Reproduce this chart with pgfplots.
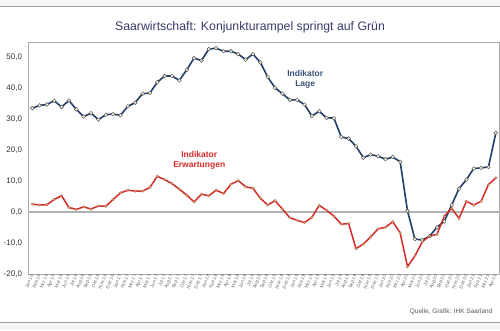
\documentclass[border=0pt]{standalone}
\usepackage{fontspec}
\setmainfont{Liberation Sans}
\usepackage{pgfplots}
\pgfplotsset{compat=1.18}
\usepackage{pgfplotstable}
\definecolor{lage}{HTML}{233E6B}
\definecolor{erw}{HTML}{D42A2A}
\definecolor{lagemark}{HTML}{EFEBD2}
\definecolor{erwmark}{HTML}{EDA070}
\definecolor{titlec}{HTML}{3B3B6E}
\pgfplotstableread{
i lage erw
0 33.6 2.6
1 34.5 2.3
2 34.8 2.4
3 36.0 4.1
4 34.0 5.3
5 36.1 1.5
6 33.2 0.9
7 30.9 1.7
8 32.0 1.0
9 29.9 2.0
10 31.5 1.9
11 31.7 4.1
12 31.3 6.2
13 34.2 7.1
14 35.4 6.8
15 38.3 6.8
16 38.5 8.0
17 42.0 11.6
18 44.0 10.5
19 44.0 9.2
20 42.6 7.4
21 46.0 5.5
22 49.8 3.3
23 49.0 5.8
24 52.7 5.3
25 53.0 7.1
26 52.0 6.0
27 52.0 9.0
28 51.1 10.2
29 49.3 8.2
30 51.1 7.7
31 48.4 4.5
32 43.7 2.3
33 40.2 3.7
34 38.3 1.0
35 36.3 -1.8
36 36.3 -2.6
37 34.8 -3.4
38 31.1 -1.7
39 32.6 2.2
40 30.5 0.6
41 30.4 -1.3
42 24.3 -3.9
43 23.8 -3.7
44 21.3 -11.8
45 17.6 -10.3
46 18.6 -8.0
47 18.1 -5.4
48 17.1 -4.9
49 17.8 -3.1
50 16.3 -6.7
51 0.4 -17.6
52 -8.7 -14.2
53 -9.0 -9.6
54 -7.8 -7.7
55 -4.9 -7.2
56 -3.0 -1.3
57 2.3 1.2
58 7.6 -2.0
59 10.5 3.5
60 14.1 2.3
61 14.3 3.5
62 14.6 8.9
63 25.6 11.1
}\data
\begin{document}
\begin{tikzpicture}
\path[use as bounding box] (0pt,0pt) rectangle (500pt,330pt);
\fill[gray!7] (0pt,0pt) rectangle (500pt,330pt);
\fill[white] (0pt,8pt) rectangle (500pt,324pt);
\draw[gray!75, line width=0.9pt] (0pt,324pt) -- (500pt,324pt);
\draw[gray!75, line width=0.9pt] (0pt,8pt) -- (500pt,8pt);
\begin{axis}[
  at={(28.5pt,56pt)}, anchor=south west,
  scale only axis, width=471pt, height=232pt,
  xmin=-0.5, xmax=63.5, ymin=-20, ymax=55,
  axis line style={draw=gray!65, line width=0.6pt},
  major tick length=0pt,
  ytick={-20,-10,0,10,20,30,40,50},
  /pgf/number format/fixed, /pgf/number format/fixed zerofill,
  /pgf/number format/precision=1, /pgf/number format/use comma,
  /pgf/number format/assume math mode=true,
  yticklabel style={font=\fontsize{8}{9}\selectfont, text=black!80, xshift=-3pt},
  xtick={0,...,63},
  xticklabels={Jan 16,Feb 16,Mrz 16,Apr 16,Mai 16,Jun 16,Jul 16,Aug 16,Sep 16,Okt 16,Nov 16,Dez 16,
Jan 17,Feb 17,Mrz 17,Apr 17,Mai 17,Jun 17,Jul 17,Aug 17,Sep 17,Okt 17,Nov 17,Dez 17,
Jan 18,Feb 18,Mrz 18,Apr 18,Mai 18,Jun 18,Jul 18,Aug 18,Sep 18,Okt 18,Nov 18,Dez 18,
Jan 19,Feb 19,Mrz 19,Apr 19,Mai 19,Jun 19,Jul 19,Aug 19,Sep 19,Okt 19,Nov 19,Dez 19,
Jan 20,Feb 20,Mrz 20,Apr 20,Mai 20,Jun 20,Jul 20,Aug 20,Sep 20,Okt 20,Nov 20,Dez 20,
Jan 21,Feb 21,Mrz 21,Apr 21},
  xticklabel style={font=\fontsize{4.6}{5}\selectfont, text=black!60, rotate=68, anchor=east, inner sep=0.8pt},
  extra y ticks={0}, extra y tick labels={},
  extra y tick style={grid=major, major grid style={draw=gray!60, line width=1.4pt}},
  clip=false,
]
\addplot[color=lage, line width=1.6pt, mark=*, mark size=1.9pt,
  mark options={fill=lagemark, draw=gray!60!black, line width=0.4pt}] table[x=i, y=lage] {\data};
\addplot[color=erw, line width=1.5pt, mark=*, mark size=1.3pt,
  mark options={fill=erwmark, draw=erwmark!70!black, line width=0.3pt}] table[x=i, y=erw] {\data};
\node[font=\bfseries\fontsize{8.5}{10}\selectfont, text=lage!90, align=center] at (axis cs:37.1,43.0) {Indikator\\Lage};
\node[font=\bfseries\fontsize{8.5}{10}\selectfont, text=erw, align=center] at (axis cs:22.7,16.6) {Indikator\\Erwartungen};
\end{axis}
\node[font=\fontsize{12.3}{13}\selectfont, text=titlec] at (250pt,303pt) {Saarwirtschaft: Konjunkturampel springt auf Grün};
\node[anchor=east, font=\fontsize{6.5}{7}\selectfont, text=black!65] at (496pt,18pt) {Quelle, Grafik: IHK Saarland};
\end{tikzpicture}
\end{document}
